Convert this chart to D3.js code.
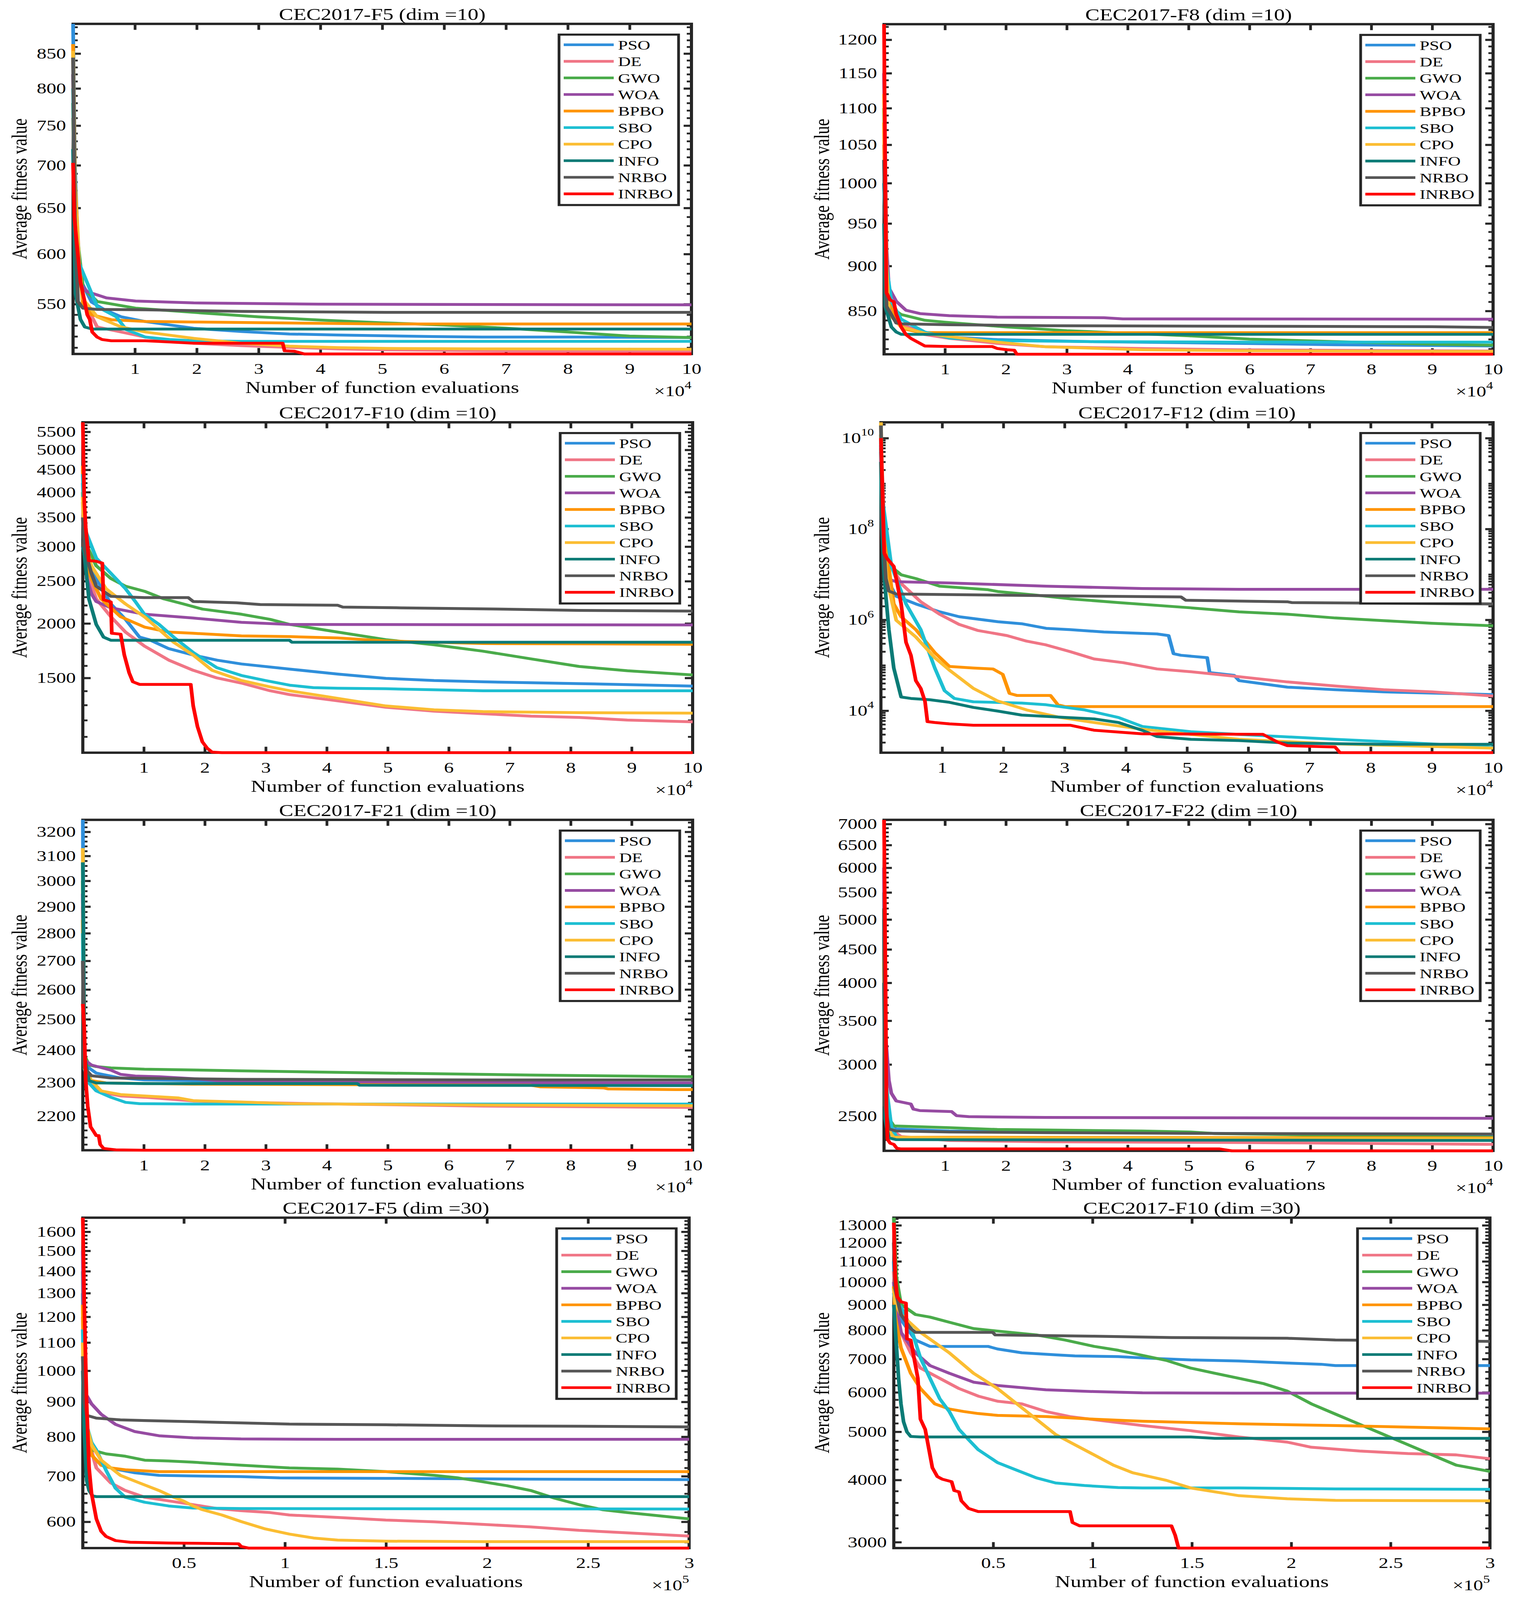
<!DOCTYPE html>
<html>
<head>
<meta charset="utf-8">
<script src="https://cdn.jsdelivr.net/npm/d3@7"></script>
<style>
html, body { margin: 0; padding: 0; background: #fff; overflow: hidden; }
svg { display: block; }
svg text { font-family: "Liberation Serif", "Times New Roman", serif; fill: #000; }
</style>
</head>
<body>
<div id="chart"></div>
<script>
// algorithm names and colours, in drawing order
const algorithms = ["PSO", "DE", "GWO", "WOA", "BPBO", "SBO", "CPO", "INFO", "NRBO", "INRBO"];
const lineColors = ["#2f8fdb", "#f07585", "#4aab4a", "#964ba2", "#ff9400", "#1dbfd2", "#fbbd32", "#0c7b76", "#565656", "#ff0000"];

// convergence curves, [evaluations (x10^4 or x10^5), average fitness]
// order of every panel: PSO, DE, GWO, WOA, BPBO, SBO, CPO, INFO, NRBO, INRBO
const f5d10 = [
  [[0,895],[0.03,700],[0.08,600],[0.15,570],[0.3,552],[0.5,545],[0.78,538],[1.17,533.6],[1.95,527.4],[2.72,524.5],[3.5,522.2],[4.28,521.3],[5.06,520.6],[5.84,519.9],[6.61,519.4],[8.17,519.4],[10,519.0]],
  [[0,760],[0.03,640],[0.1,575],[0.2,550],[0.39,528.6],[0.78,524],[1.17,519.4],[1.56,516.1],[1.95,513.9],[2.72,511.7],[3.5,510.2],[4.28,508.9],[5.06,508.0],[6.61,507.2],[10,506.8]],
  [[0,780],[0.03,640],[0.16,566],[0.39,552.5],[1.01,546.2],[2,542],[3,538],[4,535],[5,532.5],[6,530.4],[7,527.5],[8,524],[9,520.3],[10,519.0]],
  [[0,820],[0.03,650],[0.08,572],[0.23,562],[0.54,556],[1.01,553],[1.95,551.2],[3.97,550],[10,549.3]],
  [[0,864],[0.03,680],[0.1,590],[0.16,550],[0.3,540],[0.62,535.3],[1.17,533.7],[1.95,533.2],[3.5,532.3],[5.06,531.4],[10,531.4]],
  [[0,800],[0.03,660],[0.1,590],[0.39,547.6],[0.7,538],[0.86,526.2],[1.17,519.4],[1.56,517.2],[1.95,516.1],[2.72,515.6],[10,515.6]],
  [[0,854],[0.03,670],[0.1,585],[0.16,555],[0.39,538],[0.78,528.6],[1.17,524],[1.95,518.3],[2.72,513.9],[3.5,511.3],[4.28,510],[5.06,509.3],[6.61,508.9],[10,508.5]],
  [[0,720],[0.02,620],[0.04,559.8],[0.12,535.6],[0.19,528.6],[0.31,526.7],[10,526.7]],
  [[0,844],[0.03,640],[0.08,552.5],[0.16,546.2],[0.39,545],[1.17,544.6],[2.72,543.1],[5.06,542.2],[10,542.2]],
  [[0,703],[0.02,640],[0.04,625.9],[0.12,572],[0.23,539.9],[0.27,535.6],[0.31,524],[0.39,519.4],[0.47,517.2],[0.62,516.1],[1.17,516.1],[1.56,515],[1.95,513.9],[3.39,513.9],[3.42,507.2],[3.58,506.8],[3.74,504.4],[10,504.4]]
];

const f8d10 = [
  [[0,1000],[0.04,900],[0.12,855],[0.28,835.8],[0.67,826.3],[1.07,822.3],[1.86,819.6],[3.45,817.5],[5.82,815.7],[7.41,814.3],[10,813.0]],
  [[0,1050],[0.04,900],[0.12,846.7],[0.28,835.8],[0.67,824.9],[1.07,820.9],[1.86,815.7],[2.65,812.2],[4.24,810.4],[5.82,809.1],[10,807.8]],
  [[0,1100],[0.04,900],[0.08,855],[0.28,846.2],[0.67,840],[1,838],[2,833],[3,829],[4,826.3],[5,823.6],[6,820.1],[7,818.3],[8,816.5],[9,814.9],[10,813.8]],
  [[0,1150],[0.04,920],[0.08,875.3],[0.2,860.5],[0.36,850.8],[0.59,847.2],[1.07,845],[1.86,843.4],[3.61,842.8],[3.92,841.5],[10,841.2]],
  [[0,1080],[0.04,880],[0.2,838.5],[0.36,830.4],[0.59,827.1],[1.07,826.9],[10,826.9]],
  [[0,1000],[0.04,900],[0.12,860.5],[0.28,841.2],[0.67,827.6],[1.07,821.2],[1.86,818.6],[3.45,817.5],[5.82,817],[10,817]],
  [[0,1120],[0.04,900],[0.08,846.7],[0.28,833],[0.67,826.3],[1.07,822.8],[1.86,817],[2.65,812.2],[4.24,809.1],[5.82,808.1],[10,807.3]],
  [[0,950],[0.02,855],[0.12,833],[0.2,827.6],[0.28,825.2],[10,825.2]],
  [[0,1030],[0.04,855],[0.2,837.1],[0.28,836.3],[1.07,835.3],[2.65,834.2],[5.82,833.7],[8.99,833.2],[10,832.4]],
  [[0,1224],[0.02,1000],[0.04,870],[0.1,862],[0.16,860],[0.2,846.7],[0.28,833],[0.36,824.9],[0.44,820.9],[0.59,815.7],[0.67,813],[1.07,812.4],[1.78,812.4],[1.86,810.4],[2.02,809.1],[2.14,808.6],[2.18,804.5],[10,804.5]]
];

const f10d10 = [
  [[0,4200],[0.024,3300],[0.063,2898],[0.22,2536],[0.46,2217],[0.7,2044],[0.93,1861],[1.09,1836],[1.41,1751],[1.81,1693],[2.2,1648],[2.6,1615],[3.39,1572],[4.18,1531],[4.97,1497],[5.76,1480],[6.56,1470],[8.14,1456],[10,1437]],
  [[0,3800],[0.024,2898],[0.1,2536],[0.22,2277],[0.46,2072],[0.7,1911],[1.01,1775],[1.41,1648],[1.81,1562],[2.2,1500],[2.6,1460],[3.07,1402],[3.39,1374],[4.18,1329],[4.97,1285],[5.76,1259],[6.56,1242],[7.35,1226],[8.14,1218],[8.93,1201],[10,1190]],
  [[0,4000],[0.024,3101],[0.22,2712],[0.46,2536],[0.7,2435],[1.01,2371],[1.33,2277],[1.65,2217],[1.96,2158],[2.6,2100],[3.07,2044],[3.39,1990],[4.18,1911],[4.97,1836],[5.76,1787],[6.56,1728],[7.35,1659],[8.14,1594],[8.93,1558],[10,1524]],
  [[0,4500],[0.063,2536],[0.14,2340],[0.22,2246],[0.46,2172],[1.01,2100],[1.81,2058],[2.6,2012],[3.39,1990],[10,1984]],
  [[0,4600],[0.024,2898],[0.14,2536],[0.3,2277],[0.62,2072],[1.01,1963],[1.41,1911],[1.81,1899],[2.6,1873],[3.39,1866],[4.18,1853],[4.97,1824],[6.56,1799],[10,1792]],
  [[0,4400],[0.024,3317],[0.22,2825],[0.46,2607],[0.7,2403],[0.86,2246],[1.01,2100],[1.25,1990],[1.49,1861],[1.81,1716],[2.2,1583],[2.6,1520],[2.99,1480],[3.39,1444],[3.78,1425],[4.18,1421],[4.97,1417],[6.56,1402],[10,1402]],
  [[0,3900],[0.024,3101],[0.14,2712],[0.38,2403],[0.7,2217],[1.01,2072],[1.25,1937],[1.49,1811],[1.81,1693],[2.12,1562],[2.6,1480],[3.07,1431],[3.39,1402],[4.18,1347],[4.97,1294],[5.76,1268],[6.56,1256],[8.14,1249],[10,1246]],
  [[0,3000],[0.024,2898],[0.1,2277],[0.22,1990],[0.34,1861],[0.46,1830],[3.39,1830],[3.43,1811],[10,1811]],
  [[0,3500],[0.024,2985],[0.14,2607],[0.22,2435],[0.46,2308],[1.01,2292],[1.73,2292],[1.81,2246],[2.52,2231],[2.91,2210],[4.18,2202],[4.26,2181],[5.21,2172],[6.79,2158],[8.14,2143],[10,2135]],
  [[0,5784],[0.024,3801],[0.048,3317],[0.08,2985],[0.1,2787],[0.22,2778],[0.32,2750],[0.34,2268],[0.46,2240],[0.475,1899],[0.62,1890],[0.68,1694],[0.76,1541],[0.82,1470],[0.93,1450],[1.77,1450],[1.81,1295],[1.88,1161],[1.96,1071],[2.04,1035],[2.12,1014],[2.28,1011],[10,1011]]
];

const f12d10 = [
  [[0,5e9],[0.03,1.07e8],[0.095,8.1e6],[0.25,3.3e6],[0.57,2.24e6],[0.96,1.5e6],[1.28,1.17e6],[1.91,9.1e5],[2.3,8.2e5],[2.7,6.5e5],[3.09,6.1e5],[3.64,5.4e5],[4.51,4.9e5],[4.7,4.5e5],[4.78,1.8e5],[4.9,1.66e5],[5.33,1.47e5],[5.37,6.9e4],[5.77,6.0e4],[5.85,4.6e4],[6.64,3.3e4],[7.42,2.9e4],[8.21,2.6e4],[10,2.26e4]],
  [[0,8e9],[0.055,1.07e8],[0.17,1.55e7],[0.33,6.3e6],[0.65,2.5e6],[0.96,1.33e6],[1.28,7.9e5],[1.59,5.8e5],[2.06,4.5e5],[2.38,3.4e5],[2.7,2.8e5],[3.09,2.0e5],[3.48,1.38e5],[3.96,1.14e5],[4.51,8.3e4],[5.06,7.2e4],[5.85,5.6e4],[6.64,4.3e4],[7.42,3.5e4],[8.21,2.9e4],[9.0,2.6e4],[10,2.1e4]],
  [[0,6e9],[0.03,4e8],[0.095,1.78e7],[0.33,9.8e6],[0.57,8.1e6],[0.96,5.5e6],[1.75,4.6e6],[1.91,4.2e6],[2.54,3.5e6],[3.09,2.9e6],[3.88,2.4e6],[5.06,1.84e6],[5.85,1.5e6],[6.64,1.33e6],[7.42,1.1e6],[8.21,9.6e5],[9.0,8.4e5],[10,7.4e5]],
  [[0,7e9],[0.016,1.5e8],[0.095,8.1e6],[0.25,6.9e6],[1.12,6.5e6],[2.7,5.5e6],[4.27,4.9e6],[5.85,4.7e6],[10,4.7e6]],
  [[0,1.2e10],[0.03,4e8],[0.095,2.95e7],[0.21,2.24e6],[0.33,1.17e6],[0.57,6.1e5],[0.88,1.9e5],[1.12,9.4e4],[1.51,8.7e4],[1.83,8.3e4],[1.99,6.3e4],[2.1,2.4e4],[2.22,2.17e4],[2.77,2.17e4],[2.89,1.35e4],[3.01,1.23e4],[10,1.23e4]],
  [[0,9e9],[0.03,4e8],[0.17,1.55e7],[0.41,2.24e6],[0.65,6.1e5],[0.88,8.7e4],[1.04,2.75e4],[1.2,1.86e4],[1.51,1.57e4],[2.3,1.47e4],[2.7,1.35e4],[3.33,1.04e4],[3.88,7.1e3],[4.27,4.5e3],[5.06,3.45e3],[5.85,3.0e3],[7.42,2.35e3],[9.0,1.86e3],[10,1.55e3]],
  [[0,2.23e10],[0.03,1.07e8],[0.095,8.1e6],[0.25,9.8e5],[0.57,4.2e5],[0.88,1.47e5],[1.12,7.8e4],[1.51,3.1e4],[1.91,1.63e4],[2.38,1.04e4],[2.93,7.1e3],[3.48,5.5e3],[4.27,3.9e3],[5.06,3.0e3],[5.85,2.35e3],[7.42,1.86e3],[10,1.5e3]],
  [[0,3e9],[0.016,1.07e8],[0.055,8.1e6],[0.13,6.1e5],[0.21,8.7e4],[0.33,2.0e4],[0.49,1.86e4],[0.8,1.74e4],[1.12,1.53e4],[1.51,1.18e4],[1.91,9.8e3],[2.3,8.0e3],[3.01,7.1e3],[3.48,6.6e3],[3.88,5.5e3],[4.27,3.7e3],[4.51,2.7e3],[5.06,2.35e3],[5.85,2.2e3],[6.64,1.94e3],[8.21,1.82e3],[10,1.82e3]],
  [[0,1.9e10],[0.03,1.07e8],[0.08,8.1e6],[0.13,4.3e6],[0.25,3.7e6],[1.12,3.6e6],[2.7,3.4e6],[4.9,3.2e6],[4.98,2.7e6],[6.64,2.5e6],[6.71,2.4e6],[10,2.24e6]],
  [[0,1e10],[0.03,4.0e8],[0.055,2.95e7],[0.095,2.3e7],[0.21,1.5e7],[0.25,8.1e6],[0.33,2.24e6],[0.41,3.2e5],[0.49,1.66e5],[0.57,4.6e4],[0.65,3.1e4],[0.72,1.6e4],[0.76,5750],[0.88,5500],[1.12,5130],[1.51,4790],[3.09,4790],[3.48,3720],[4.27,3090],[6.24,3020],[6.48,2040],[6.64,1700],[7.42,1585],[7.5,1190],[10,1190]]
];

const f21d10 = [
  [[0,3251],[0.024,2385],[0.1,2345],[0.22,2329],[0.62,2314],[1.01,2308],[2.6,2304],[6.56,2302],[10,2295]],
  [[0,2900],[0.024,2345],[0.14,2299],[0.3,2271],[0.62,2260],[1.01,2256],[1.81,2245],[2.6,2241],[4.18,2236],[6.56,2230],[10,2226]],
  [[0,3000],[0.024,2385],[0.1,2354],[0.22,2349],[0.46,2345],[1.01,2341],[2.6,2336],[4.97,2329],[7.35,2323],[10,2318]],
  [[0,2950],[0.024,2370],[0.14,2354],[0.46,2338],[0.62,2325],[0.86,2320],[1.25,2318],[1.81,2312],[2.2,2306],[3.39,2302],[6.56,2300],[10,2299]],
  [[0,2850],[0.024,2345],[0.14,2306],[0.38,2299],[1.81,2295],[7.35,2292],[7.51,2287],[8.54,2284],[8.61,2281],[9.72,2279],[10,2279]],
  [[0,2800],[0.024,2345],[0.1,2299],[0.22,2275],[0.46,2256],[0.7,2241],[0.93,2237],[1.81,2236],[10,2236]],
  [[0,3132],[0.024,2345],[0.14,2306],[0.3,2275],[0.62,2264],[1.01,2260],[1.57,2254],[1.81,2246],[2.6,2242],[3.39,2237],[6.56,2233],[10,2231]],
  [[0,3074],[0.024,2385],[0.1,2306],[0.22,2299],[1.01,2297],[4.5,2297],[4.54,2292],[10,2291]],
  [[0,2700],[0.024,2345],[0.14,2321],[0.46,2314],[2.6,2310],[6.56,2308],[10,2308]],
  [[0,2551],[0.024,2470],[0.048,2305],[0.08,2230],[0.127,2170],[0.18,2156],[0.22,2145],[0.26,2145],[0.285,2120],[0.34,2109],[0.54,2105],[1.01,2104],[10,2104]]
];

const f22d10 = [
  [[0,5000],[0.024,2711],[0.12,2412],[0.2,2390],[1.07,2373],[1.86,2369],[5.82,2352],[10,2337]],
  [[0,4800],[0.016,2711],[0.08,2478],[0.16,2369],[0.28,2327],[1.07,2295],[2.65,2285],[5.82,2279],[10,2264]],
  [[0,5500],[0.024,2711],[0.08,2478],[0.16,2416],[1.07,2401],[1.86,2386],[4.24,2373],[5.03,2365],[5.43,2352],[6.62,2343],[8.2,2331],[10,2322]],
  [[0,6000],[0.016,3395],[0.08,2836],[0.12,2711],[0.2,2638],[0.44,2610],[0.48,2564],[0.59,2550],[1.11,2541],[1.19,2505],[1.39,2496],[2.65,2489],[10,2482]],
  [[0,4500],[0.016,2592],[0.08,2369],[0.2,2322],[10,2316]],
  [[0,4700],[0.024,2836],[0.12,2412],[0.2,2327],[0.44,2310],[5.82,2306],[10,2302]],
  [[0,4300],[0.016,2592],[0.08,2369],[0.16,2322],[1.07,2316],[10,2310]],
  [[0,4000],[0.016,2478],[0.08,2316],[0.2,2302],[10,2295]],
  [[0,5200],[0.016,2592],[0.08,2390],[0.2,2373],[1.07,2365],[2.65,2359],[5.82,2352],[10,2348]],
  [[0,7104],[0.024,4062],[0.04,2592],[0.055,2306],[0.1,2273],[0.16,2264],[0.21,2233],[0.28,2228],[5.51,2228],[5.71,2213],[10,2213]]
];

const f5d30 = [
  [[0,1300],[0.007,856],[0.043,752],[0.091,726.5],[0.162,717],[0.258,708],[0.377,702],[0.545,700.7],[0.783,699],[0.974,696],[1.5,695],[2.216,693],[3,692]],
  [[0,1200],[0.007,894],[0.031,785],[0.067,720],[0.139,684],[0.21,667],[0.306,652],[0.425,644],[0.545,636],[0.664,627.5],[0.783,623],[0.927,619],[1.022,614],[1.261,609],[1.5,603.6],[1.739,600],[1.978,594.8],[2.216,589.7],[2.455,583],[2.694,578],[3,571.7]],
  [[0,1400],[0.007,820],[0.043,765],[0.115,755],[0.21,749],[0.306,739],[0.425,737],[0.545,734],[0.783,726.5],[1.022,720],[1.261,717],[1.5,711],[1.739,702],[1.858,696],[1.978,687],[2.097,678],[2.216,667],[2.336,649.6],[2.455,635.8],[2.575,624.8],[2.694,619],[2.813,614],[3,606]],
  [[0,1500],[0.007,933],[0.043,894],[0.091,863],[0.162,834],[0.258,814],[0.377,802.6],[0.545,797],[0.783,794],[1.261,793],[3,793]],
  [[0,1250],[0.007,856],[0.043,752],[0.091,726.5],[0.139,720],[0.21,715.4],[0.377,711],[3,711]],
  [[0,1150],[0.007,856],[0.043,785],[0.067,765],[0.115,714],[0.162,672],[0.21,652],[0.306,641],[0.425,633],[0.545,628.6],[0.783,627.5],[3,626.5]],
  [[0,1100],[0.007,856],[0.043,778.6],[0.091,739],[0.186,702],[0.282,684],[0.377,667],[0.449,652],[0.497,644],[0.545,633],[0.592,625],[0.688,614],[0.783,600.5],[0.903,585.7],[1.022,575.6],[1.142,568],[1.261,564],[1.5,562],[1.978,561],[3,561]],
  [[0,1000],[0.007,820],[0.019,690],[0.031,667],[0.048,655],[0.067,653.3],[3,653.3]],
  [[0,1050],[0.007,900],[0.019,860],[0.067,852],[0.186,847],[0.306,845],[0.664,840],[1.022,835],[1.5,833],[1.978,830],[2.455,829],[3,827]],
  [[0,1678],[0.007,1262],[0.019,894],[0.031,720],[0.043,661],[0.067,606],[0.091,581],[0.115,571],[0.162,563],[0.234,560],[0.425,558.5],[0.771,557],[0.783,552],[0.819,549],[3,549]]
];

const f10d30 = [
  [[0,11000],[0.007,9125],[0.036,8401],[0.109,7645],[0.182,7423],[0.474,7423],[0.522,7335],[0.644,7207],[0.814,7139],[0.911,7105],[1.129,7080],[1.251,7038],[1.494,6972],[1.737,6939],[1.98,6874],[2.15,6834],[2.222,6793],[3,6793]],
  [[0,10500],[0.007,9125],[0.036,7921],[0.085,7207],[0.134,6714],[0.231,6403],[0.328,6108],[0.425,5897],[0.522,5759],[0.644,5690],[0.765,5492],[0.887,5364],[1.008,5288],[1.251,5146],[1.494,5026],[1.737,4881],[1.98,4766],[2.101,4655],[2.344,4574],[2.587,4520],[2.83,4493],[3,4414]],
  [[0,13468],[0.012,10267],[0.036,9018],[0.109,8602],[0.182,8502],[0.279,8302],[0.401,8062],[0.522,7967],[0.717,7828],[0.862,7645],[1.008,7423],[1.129,7292],[1.251,7121],[1.372,6956],[1.494,6714],[1.615,6556],[1.737,6403],[1.858,6253],[1.98,6036],[2.101,5690],[2.222,5427],[2.344,5177],[2.465,4938],[2.587,4710],[2.708,4493],[2.83,4285],[3,4161]],
  [[0,10000],[0.007,9125],[0.036,7921],[0.109,7207],[0.182,6793],[0.279,6556],[0.401,6291],[0.522,6195],[0.765,6072],[1.008,6022],[1.251,5987],[1.737,5980],[3,5980]],
  [[0,9800],[0.007,8502],[0.036,7378],[0.085,6556],[0.134,6108],[0.206,5690],[0.279,5557],[0.352,5492],[0.425,5440],[0.522,5395],[0.765,5364],[1.008,5301],[1.251,5251],[1.737,5189],[2.222,5146],[3,5068]],
  [[0,9500],[0.007,9125],[0.036,8912],[0.085,8110],[0.134,7038],[0.182,6403],[0.231,5826],[0.279,5492],[0.328,5056],[0.376,4823],[0.425,4601],[0.522,4336],[0.619,4185],[0.717,4040],[0.814,3946],[0.959,3899],[1.129,3862],[1.251,3855],[1.737,3855],[2.222,3839],[3,3831]],
  [[0,9700],[0.007,9125],[0.036,8602],[0.134,7921],[0.279,7207],[0.401,6556],[0.522,6108],[0.619,5690],[0.717,5301],[0.814,4938],[0.911,4710],[1.008,4493],[1.105,4285],[1.202,4137],[1.372,3993],[1.494,3855],[1.737,3720],[1.98,3667],[2.222,3641],[3,3632]],
  [[0,9000],[0.007,8110],[0.024,6403],[0.036,5690],[0.049,5239],[0.066,4997],[0.085,4892],[0.134,4881],[1.494,4881],[1.615,4851],[3,4851]],
  [[0,12000],[0.007,9681],[0.036,8602],[0.085,8062],[0.109,7921],[0.498,7921],[0.51,7828],[1.008,7781],[1.397,7734],[1.98,7708],[2.222,7645],[3,7599]],
  [[0,13160],[0.007,10267],[0.017,9343],[0.036,9125],[0.061,9072],[0.066,7689],[0.085,7645],[0.097,7207],[0.121,6403],[0.134,5301],[0.158,5056],[0.17,4766],[0.194,4235],[0.219,4064],[0.243,4016],[0.291,3969],[0.304,3809],[0.328,3786],[0.34,3632],[0.376,3506],[0.425,3456],[0.887,3456],[0.899,3286],[0.935,3236],[1.397,3236],[1.416,3097],[1.433,2919],[3,2919]]
];

// tick labels
const xTicks10 = [1, 2, 3, 4, 5, 6, 7, 8, 9, 10];
const xTicks30 = [0.5, 1, 1.5, 2, 2.5, 3];
const yTicksF5 = [550, 600, 650, 700, 750, 800, 850];
const yTicksF8 = [850, 900, 950, 1000, 1050, 1100, 1150, 1200];
const yTicksF10 = [1500, 2000, 2500, 3000, 3500, 4000, 4500, 5000, 5500];
const yTicksF12 = [1e4, 1e6, 1e8, 1e10];
const yTicksF21 = [2200, 2300, 2400, 2500, 2600, 2700, 2800, 2900, 3000, 3100, 3200];
const yTicksF22 = [2500, 3000, 3500, 4000, 4500, 5000, 5500, 6000, 6500, 7000];
const yTicksF5d30 = [600, 700, 800, 900, 1000, 1100, 1200, 1300, 1400, 1500, 1600];
const yTicksF10d30 = [3000, 4000, 5000, 6000, 7000, 8000, 9000, 10000, 11000, 12000, 13000];

// layout of the eight axes: [left, top, right, bottom] of the frame
const panels = [
  { title: "CEC2017-F5 (dim =10)", data: f5d10, yTicks: yTicksF5, minor: 10, xTicks: xTicks10, xMax: 10, exp: "4", box: [187, 80, 1770, 1186], labelX: 49 },
  { title: "CEC2017-F8 (dim =10)", data: f8d10, yTicks: yTicksF8, minor: 10, xTicks: xTicks10, xMax: 10, exp: "4", box: [2263, 81, 3822, 1187], labelX: 2103 },
  { title: "CEC2017-F10 (dim =10)", data: f10d10, yTicks: yTicksF10, minor: 100, xTicks: xTicks10, xMax: 10, exp: "4", box: [212, 1415, 1773, 2522], labelX: 49 },
  { title: "CEC2017-F12 (dim =10)", data: f12d10, yTicks: yTicksF12, minor: "log", xTicks: xTicks10, xMax: 10, exp: "4", box: [2255, 1415, 3822, 2522], labelX: 2103 },
  { title: "CEC2017-F21 (dim =10)", data: f21d10, yTicks: yTicksF21, minor: 20, xTicks: xTicks10, xMax: 10, exp: "4", box: [212, 2747, 1773, 3854], labelX: 49 },
  { title: "CEC2017-F22 (dim =10)", data: f22d10, yTicks: yTicksF22, minor: 100, xTicks: xTicks10, xMax: 10, exp: "4", box: [2263, 2747, 3822, 3856], labelX: 2103 },
  { title: "CEC2017-F5 (dim =30)", data: f5d30, yTicks: yTicksF5d30, minor: 20, xTicks: xTicks30, xMax: 3, exp: "5", box: [212, 4080, 1764, 5187], labelX: 49 },
  { title: "CEC2017-F10 (dim =30)", data: f10d30, yTicks: yTicksF10d30, minor: 200, xTicks: xTicks30, xMax: 3, exp: "5", box: [2288, 4080, 3814, 5187], labelX: 2103 }
];

const width = 3873;
const height = 5361;
const axisColor = "#262626";

// the drawing is laid out on a 3873x5361 board and fitted to the visible window
const viewW = window.innerWidth || width;
const viewH = window.innerHeight || height;

const svg = d3.select("#chart").append("svg")
  .attr("width", viewW)
  .attr("height", viewH)
  .attr("viewBox", `0 0 ${width} ${height}`)
  .attr("preserveAspectRatio", "none");

svg.append("rect").attr("width", width).attr("height", height).attr("fill", "#fff");

function minorValues(p, ext) {
  let vals = [];
  if (p.minor === "log") {
    for (let n = Math.floor(Math.log10(ext[0])); n <= Math.ceil(Math.log10(ext[1])); n++) {
      for (let k = 1; k < 10; k++) vals.push(k * Math.pow(10, n));
    }
  } else {
    vals = d3.range(Math.ceil(ext[0] / p.minor) * p.minor, ext[1], p.minor);
  }
  return vals.filter(v => v >= ext[0] && v <= ext[1] && !p.yTicks.includes(v));
}

function styleAxis(sel, major) {
  sel.attr("font-size", null).attr("font-family", null);
  sel.select(".domain").remove();
  sel.selectAll(".tick line").attr("stroke", axisColor).attr("stroke-width", major ? 7 : 6);
}

function drawPanel(p, idx) {
  const [L, T, R, B] = p.box;
  const ext = d3.extent(p.data.flat(), d => d[1]);

  const x = d3.scaleLinear().domain([0, p.xMax]).range([L, R]);
  const y = d3.scaleLog().domain(ext).range([B, T]);

  const g = svg.append("g");

  // frame
  g.append("rect")
    .attr("x", L).attr("y", T)
    .attr("width", R - L).attr("height", B - T)
    .attr("fill", "none")
    .attr("stroke", axisColor)
    .attr("stroke-width", 8);

  const major = p.yTicks.filter(v => v >= ext[0] && v <= ext[1]);
  const minor = minorValues(p, ext);

  // y axes (left with labels, right mirrored)
  const yFmt = p.minor === "log" ? (() => "") : (d => d);
  const left = g.append("g")
    .attr("transform", `translate(${L},0)`)
    .call(d3.axisLeft(y).tickValues(major).tickSize(-20).tickPadding(18).tickFormat(yFmt));
  styleAxis(left, true);
  left.selectAll("text").attr("font-size", 50);
  if (p.minor === "log") {
    left.selectAll("text").each(function (d) {
      const t = d3.select(this);
      t.text("10");
      t.append("tspan").attr("dy", "-0.75em").attr("font-size", 33).text(Math.round(Math.log10(d)));
    });
  }
  styleAxis(g.append("g").attr("transform", `translate(${L},0)`)
    .call(d3.axisLeft(y).tickValues(minor).tickSize(-12).tickFormat("")), false);
  styleAxis(g.append("g").attr("transform", `translate(${R},0)`)
    .call(d3.axisRight(y).tickValues(major).tickSize(-20).tickFormat("")), true);
  styleAxis(g.append("g").attr("transform", `translate(${R},0)`)
    .call(d3.axisRight(y).tickValues(minor).tickSize(-12).tickFormat("")), false);

  // x axes (bottom with labels, top mirrored)
  const bottom = g.append("g")
    .attr("transform", `translate(0,${B})`)
    .call(d3.axisBottom(x).tickValues(p.xTicks).tickSize(-20).tickFormat(d => d));
  styleAxis(bottom, true);
  bottom.selectAll("text").attr("font-size", 50).attr("y", 67).attr("dy", null);
  styleAxis(g.append("g").attr("transform", `translate(0,${T})`)
    .call(d3.axisTop(x).tickValues(p.xTicks).tickSize(-20).tickFormat("")), true);

  // curves
  const clipId = "clip" + idx;
  g.append("clipPath").attr("id", clipId)
    .append("rect").attr("x", L - 5).attr("y", T - 5).attr("width", R - L + 10).attr("height", B - T + 10);

  const line = d3.line().x(d => x(d[0])).y(d => y(d[1]));
  g.append("g").attr("clip-path", `url(#${clipId})`)
    .selectAll("path")
    .data(p.data)
    .join("path")
    .attr("d", line)
    .attr("fill", "none")
    .attr("stroke", (d, i) => lineColors[i])
    .attr("stroke-width", 9.5)
    .attr("stroke-linejoin", "round");

  // texts
  g.append("text")
    .attr("x", (L + R) / 2).attr("y", T - 13)
    .attr("text-anchor", "middle").attr("font-size", 55)
    .text(p.title);
  g.append("text")
    .attr("x", (L + R) / 2).attr("y", B + 131)
    .attr("text-anchor", "middle").attr("font-size", 55)
    .text("Number of function evaluations");
  const mult = g.append("text")
    .attr("x", R).attr("y", B + 141)
    .attr("text-anchor", "end").attr("font-size", 50)
    .text("\u00d710");
  mult.append("tspan").attr("dy", -25).attr("font-size", 35).text(p.exp);
  g.append("text")
    .attr("transform", `translate(${p.labelX},${(T + B) / 2}) rotate(-90)`)
    .attr("text-anchor", "middle").attr("dy", "0.35em").attr("font-size", 55)
    .text("Average fitness value");

  // legend
  const lw = 306, lh = 571;
  const lx = R - 33 - lw, ly = T + 36;
  const leg = g.append("g");
  leg.append("rect")
    .attr("x", lx).attr("y", ly).attr("width", lw).attr("height", lh)
    .attr("fill", "#fff").attr("stroke", axisColor).attr("stroke-width", 7);
  const rows = leg.selectAll("g.row")
    .data(algorithms)
    .join("g")
    .attr("class", "row")
    .attr("transform", (d, i) => `translate(${lx},${ly + 34 + i * 55.5})`);
  rows.append("line")
    .attr("x1", 12).attr("x2", 140)
    .attr("stroke", (d, i) => lineColors[i])
    .attr("stroke-width", 9);
  rows.append("text")
    .attr("x", 151).attr("y", 16)
    .attr("font-size", 45)
    .text(d => d);
}

panels.forEach(drawPanel);
</script>
</body>
</html>
